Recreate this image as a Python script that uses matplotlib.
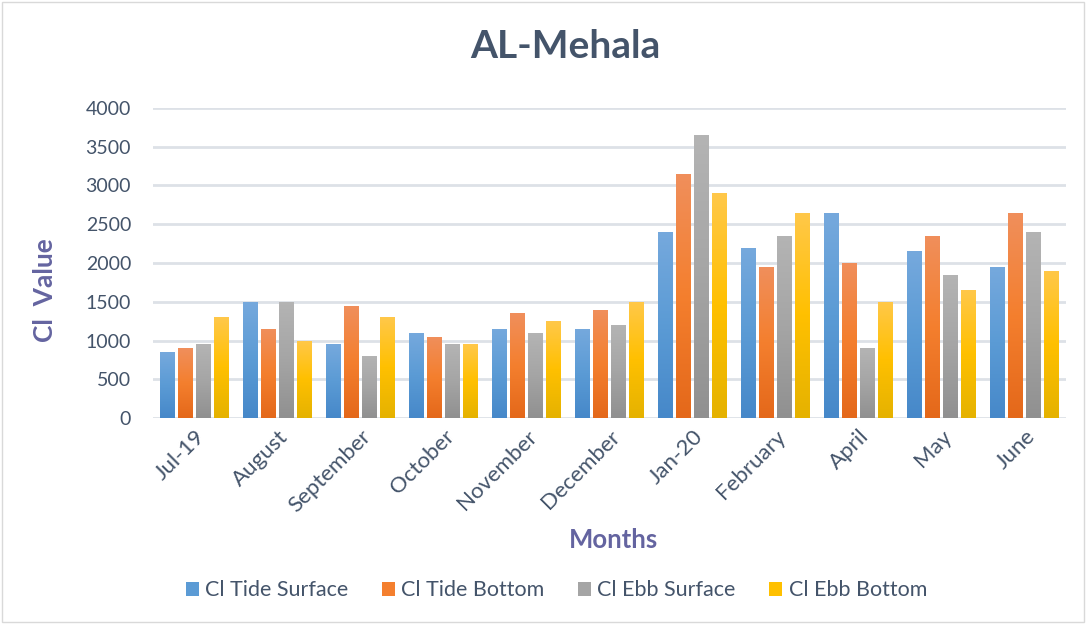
import numpy as np
import matplotlib.pyplot as plt
from matplotlib.colors import LinearSegmentedColormap
from matplotlib.patches import Rectangle

months = ['Jul-19', 'August', 'September', 'October', 'November', 'December',
          'Jan-20', 'February', 'April', 'May', 'June']
tide_surface = [850, 1500, 950, 1100, 1150, 1150, 2400, 2200, 2650, 2150, 1950]
tide_bottom = [900, 1150, 1450, 1050, 1350, 1400, 3150, 1950, 2000, 2350, 2650]
ebb_surface = [950, 1500, 800, 950, 1100, 1200, 3650, 2350, 900, 1850, 2400]
ebb_bottom = [1300, 1000, 1300, 950, 1250, 1500, 2900, 2650, 1500, 1650, 1900]
series_names = ['Cl Tide Surface', 'Cl Tide Bottom', 'Cl Ebb Surface', 'Cl Ebb Bottom']

# (top, middle, bottom) colours of the Office-style gradient fill
gradients = [
    ('#76a9dd', '#5b9bd5', '#4688c9'),
    ('#f08f5c', '#f47f2e', '#e4681a'),
    ('#b4b4b4', '#a5a5a5', '#909090'),
    ('#ffc84a', '#ffc000', '#e5b200'),
]
text_col = '#44546a'
label_col = '#6464a0'

plt.rcParams['font.family'] = ['Lato', 'DejaVu Sans']

fig = plt.figure(figsize=(10.87, 6.24), dpi=100)
ax = fig.add_axes([0.141, 0.330, 0.840, 0.497])

x = np.arange(len(months))
width = 0.18
step = 0.217
data = [tide_surface, tide_bottom, ebb_surface, ebb_bottom]
grad = np.linspace(1, 0, 256).reshape(-1, 1)

for i, (vals, cols) in enumerate(zip(data, gradients)):
    cmap = LinearSegmentedColormap.from_list(f'g{i}', [cols[2], cols[1], cols[0]])
    offs = (i - 1.5) * step
    bars = ax.bar(x + offs, vals, width, color=cols[1], label=series_names[i], zorder=2)
    for b in bars:
        x0, y0 = b.get_x(), b.get_y()
        im = ax.imshow(grad, cmap=cmap, aspect='auto', zorder=3,
                       extent=[x0, x0 + b.get_width(), y0, y0 + b.get_height()])
        im.set_clip_path(b)

ax.set_xlim(-0.5, len(months) - 0.5)
ax.set_ylim(0, 4000)
ax.set_yticks(range(0, 4001, 500))
ax.set_xticks(x)
ax.set_xticklabels(months, rotation=45, ha='right', rotation_mode='anchor')
ax.tick_params(axis='both', length=0, labelcolor=text_col)
ax.tick_params(axis='x', pad=6, labelsize=16)
ax.tick_params(axis='y', pad=16, labelsize=14)
for s in ax.spines.values():
    s.set_visible(False)
ax.grid(axis='y', color='#dde1e7', linewidth=2, zorder=0)
ax.set_axisbelow(True)

fig.text(0.52, 0.925, 'AL-Mehala', ha='center', va='center',
         fontsize=28, fontweight='bold', color=text_col)
fig.text(0.041, 0.535, 'Cl  Value', ha='center', va='center', rotation=90,
         fontsize=19, fontweight='bold', color=label_col)
fig.text(0.564, 0.134, 'Months', ha='center', va='center',
         fontsize=18.5, fontweight='bold', color=label_col)

leg = fig.legend(loc='center', bbox_to_anchor=(0.512, 0.054), ncol=4, frameon=False,
                 fontsize=15.5, handlelength=0.6, handleheight=0.6,
                 handletextpad=0.3, columnspacing=1.55)
for t in leg.get_texts():
    t.set_color(text_col)

fig.patches.append(Rectangle((0.002, 0.003), 0.995, 0.994, transform=fig.transFigure,
                             fill=False, edgecolor='#d9d9d9', linewidth=1))

fig.savefig('out.png', dpi=100)
